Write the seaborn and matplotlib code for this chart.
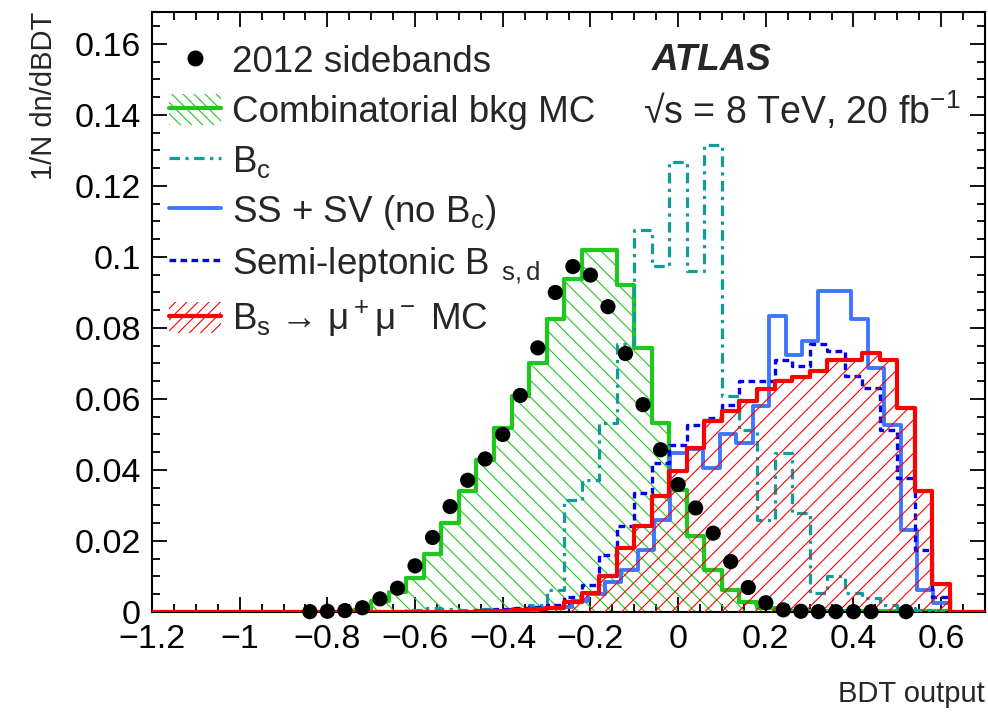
import numpy as np
import matplotlib
matplotlib.use("Agg")
import matplotlib.pyplot as plt
import seaborn as sns
from matplotlib.patches import Patch
from matplotlib.lines import Line2D
from matplotlib.ticker import MultipleLocator, FuncFormatter

sns.set_theme(style="ticks")
plt.rcParams["font.family"] = ["Liberation Sans", "DejaVu Sans"]
plt.rcParams["mathtext.fontset"] = "custom"
plt.rcParams["mathtext.rm"] = "Liberation Sans"
plt.rcParams["mathtext.it"] = "Liberation Sans:italic"
plt.rcParams["mathtext.bf"] = "Liberation Sans:bold"
plt.rcParams["hatch.linewidth"] = 0.8

# ---------------- data ----------------
# common binning (width 0.04) and the SS+SV binning (width 0.0375)
bin_edges = [round(v, 4) for v in np.arange(-1.22, 0.7401, 0.04)]
sssv_edges = [round(0.62 - 0.0375 * n, 4) for n in range(49, -3, -1)]

data_x = [-0.84, -0.80, -0.76, -0.72, -0.68, -0.64, -0.60, -0.56, -0.52, -0.48,
          -0.44, -0.40, -0.36, -0.32, -0.28, -0.24, -0.20, -0.16, -0.12, -0.08,
          -0.04, 0.00, 0.04, 0.08, 0.12, 0.16, 0.20, 0.24, 0.28, 0.32,
          0.36, 0.40, 0.44, 0.52]
data_y = [0.0001, 0.0002, 0.0004, 0.0012, 0.0037, 0.0067, 0.0130, 0.0210, 0.0297, 0.0371,
          0.0431, 0.0500, 0.0610, 0.0744, 0.0900, 0.0973, 0.0949, 0.0860, 0.0728, 0.0584,
          0.0457, 0.0359, 0.0293, 0.0222, 0.0142, 0.0069, 0.0026, 0.0006, 0.0002, 0.0001,
          0.0001, 0.0001, 0.0001, 0.0001]

comb_x = [-0.72, -0.68, -0.64, -0.60, -0.56, -0.52, -0.48, -0.44, -0.40, -0.36,
          -0.32, -0.28, -0.24, -0.20, -0.16, -0.12, -0.08, -0.04, 0.00, 0.04,
          0.08, 0.12, 0.16, 0.20, 0.24, 0.28, 0.32, 0.36, 0.40, 0.44,
          0.48, 0.52, 0.56, 0.60]
comb_y = [0.0006, 0.0030, 0.0055, 0.0095, 0.0163, 0.0250, 0.0340, 0.0429, 0.0519, 0.0608,
          0.0702, 0.0824, 0.0937, 0.1020, 0.1020, 0.0920, 0.0744, 0.0533, 0.0344, 0.0213,
          0.0119, 0.0062, 0.0029, 0.0011, 0.0004, 0.0003, 0.0003, 0.0003, 0.0003, 0.0003,
          0.0003, 0.0003, 0.0003, 0.0003]

bc_x = [-0.60, -0.56, -0.52, -0.48, -0.44, -0.40, -0.36, -0.32, -0.28, -0.24,
        -0.20, -0.16, -0.12, -0.08, -0.04, 0.00, 0.04, 0.08, 0.12, 0.16,
        0.20, 0.24, 0.28, 0.32, 0.36, 0.40, 0.44, 0.48, 0.52, 0.56]
bc_y = [0.0005, 0.0010, 0.0008, 0.0005, 0.0008, 0.0005, 0.0010, 0.0020, 0.0062, 0.0316,
        0.0373, 0.0533, 0.0754, 0.1076, 0.0975, 0.1267, 0.0961, 0.1316, 0.0608, 0.0514,
        0.0260, 0.0448, 0.0279, 0.0053, 0.0100, 0.0053, 0.0040, 0.0020, 0.0010, 0.0005]

sssv_x = [-0.41125, -0.37375, -0.33625, -0.29875, -0.26125, -0.22375, -0.18625,
          -0.14875, -0.11125, -0.07375, -0.03625, 0.00125, 0.03875, 0.07625,
          0.11375, 0.15125, 0.18875, 0.22625, 0.26375, 0.30125, 0.33875,
          0.37625, 0.41375, 0.45125, 0.48875, 0.52625, 0.56375, 0.60125]
sssv_y = [0.0003, 0.0005, 0.0006, 0.0010, 0.0015, 0.0030, 0.0050,
          0.0085, 0.0119, 0.0175, 0.0260, 0.0448, 0.0460, 0.0405,
          0.0500, 0.0476, 0.0580, 0.0834, 0.0723, 0.0763, 0.0904,
          0.0904, 0.0824, 0.0688, 0.0528, 0.0232, 0.0062, 0.0025]

semi_x = [-0.44, -0.40, -0.36, -0.32, -0.28, -0.24, -0.20, -0.16, -0.12, -0.08,
          -0.04, 0.00, 0.04, 0.08, 0.12, 0.16, 0.20, 0.24, 0.28, 0.32,
          0.36, 0.40, 0.44, 0.48, 0.52, 0.56, 0.60]
semi_y = [0.0005, 0.0008, 0.0010, 0.0015, 0.0020, 0.0043, 0.0076, 0.0161, 0.0241, 0.0335,
          0.0420, 0.0471, 0.0528, 0.0547, 0.0584, 0.0650, 0.0650, 0.0711, 0.0692, 0.0754,
          0.0735, 0.0664, 0.0631, 0.0514, 0.0377, 0.0175, 0.0043]

bs_x = [-0.44, -0.40, -0.36, -0.32, -0.28, -0.24, -0.20, -0.16, -0.12, -0.08,
        -0.04, 0.00, 0.04, 0.08, 0.12, 0.16, 0.20, 0.24, 0.28, 0.32,
        0.36, 0.40, 0.44, 0.48, 0.52, 0.56, 0.60]
bs_y = [0.0002, 0.0003, 0.0005, 0.0008, 0.0012, 0.0029, 0.0053, 0.0100, 0.0180, 0.0241,
        0.0326, 0.0396, 0.0462, 0.0537, 0.0565, 0.0594, 0.0627, 0.0650, 0.0663, 0.0678,
        0.0711, 0.0711, 0.0730, 0.0711, 0.0575, 0.0340, 0.0080]

labels = ["2012 sidebands", "Combinatorial bkg MC", r"B$_\mathrm{c}$",
          r"SS + SV (no B$_\mathrm{c}$)", r"Semi-leptonic B$_{\;\;\mathrm{s,d}}$",
          r"B$_\mathrm{s}$ → μ$^+$μ$^-$ MC"]

GREEN = "#1ec81e"
TEAL = "#119c9c"
LBLUE = "#3f76ff"
BLUE = "#0000ee"
RED = "#ff0000"

# ---------------- figure ----------------
fig = plt.figure(figsize=(9.88, 7.15), dpi=100)
ax = fig.add_axes([152 / 988, 1 - 612 / 715, 833 / 988, 600 / 715])


def hist(x, w, color, edges, ls="-", lw=3.0, hatch=None, z=2):
    if hatch:
        sns.histplot(x=x, weights=w, bins=edges, element="step", fill=True,
                     ax=ax, color=color, facecolor="none", edgecolor=color,
                     hatch=hatch, linewidth=0, zorder=z)
    sns.histplot(x=x, weights=w, bins=edges, element="step", fill=False,
                 ax=ax, color=color, linestyle=ls, linewidth=lw, zorder=z + 0.1)


dashdot = (0, (3.3, 1.7, 1.0, 1.7))
dotted = (0, (2.0, 1.3))

hist(comb_x, comb_y, GREEN, bin_edges, lw=3.0, hatch="\\\\", z=2)
hist(bc_x, bc_y, TEAL, bin_edges, ls=dashdot, lw=2.3, z=3)
hist(sssv_x, sssv_y, LBLUE, sssv_edges, lw=2.8, z=4)
hist(semi_x, semi_y, BLUE, bin_edges, ls=dotted, lw=2.4, z=5)
hist(bs_x, bs_y, RED, bin_edges, lw=3.0, hatch="//", z=6)
sns.scatterplot(x=data_x, y=data_y, color="black", s=120, edgecolor="none",
                zorder=10, clip_on=False, ax=ax, legend=False)

ax.set_xlim(-1.2, 0.7)
ax.set_ylim(0, 0.169)

fmt = FuncFormatter(lambda v, _: "0" if abs(v) < 1e-9 else ("%g" % round(v, 3)).replace("-", "\u2212"))
ax.xaxis.set_major_locator(MultipleLocator(0.2))
ax.xaxis.set_minor_locator(MultipleLocator(0.05))
ax.yaxis.set_major_locator(MultipleLocator(0.02))
ax.yaxis.set_minor_locator(MultipleLocator(0.005))
ax.xaxis.set_major_formatter(fmt)
ax.yaxis.set_major_formatter(fmt)
ax.tick_params(which="both", direction="in", top=True, right=True, width=1.3,
               labelsize=24.5, colors="black")
ax.tick_params(which="major", length=11)
ax.tick_params(which="minor", length=5.5)
ax.tick_params(axis="x", which="major", pad=9)
ax.tick_params(axis="y", which="major", pad=8)
for sp in ax.spines.values():
    sp.set_linewidth(1.5)
    sp.set_color("black")

ax.set_xlabel("BDT output", fontsize=21, loc="right", labelpad=18)
ax.set_ylabel("1/N dn/dBDT", fontsize=21, loc="top", labelpad=12)

ax.text(0.600, 0.92, "ATLAS", transform=ax.transAxes, fontsize=26.5,
        fontweight="bold", fontstyle="italic", va="center", ha="left")
ax.text(0.589, 0.835, "√s = 8 TeV, 20 fb$^{-1}$", transform=ax.transAxes,
        fontsize=27, va="center", ha="left")

handles = [
    Line2D([], [], marker="o", color="black", linestyle="none", markersize=10.5),
    (Patch(facecolor="none", edgecolor=GREEN, hatch="\\\\\\", linewidth=0),
     Line2D([], [], color=GREEN, lw=3)),
    Line2D([], [], color=TEAL, lw=2.3, linestyle=dashdot),
    Line2D([], [], color=LBLUE, lw=2.8),
    Line2D([], [], color=BLUE, lw=2.4, linestyle=dotted),
    (Patch(facecolor="none", edgecolor=RED, hatch="///", linewidth=0),
     Line2D([], [], color=RED, lw=3)),
]
ax.legend(handles, labels, loc="upper left", bbox_to_anchor=(0.021, 0.947),
          frameon=False, fontsize=26.5, handlelength=1.4, handleheight=0.95,
          handletextpad=0.3, labelspacing=0.36, borderpad=0, borderaxespad=0)

fig.savefig("out.png", dpi=100)
